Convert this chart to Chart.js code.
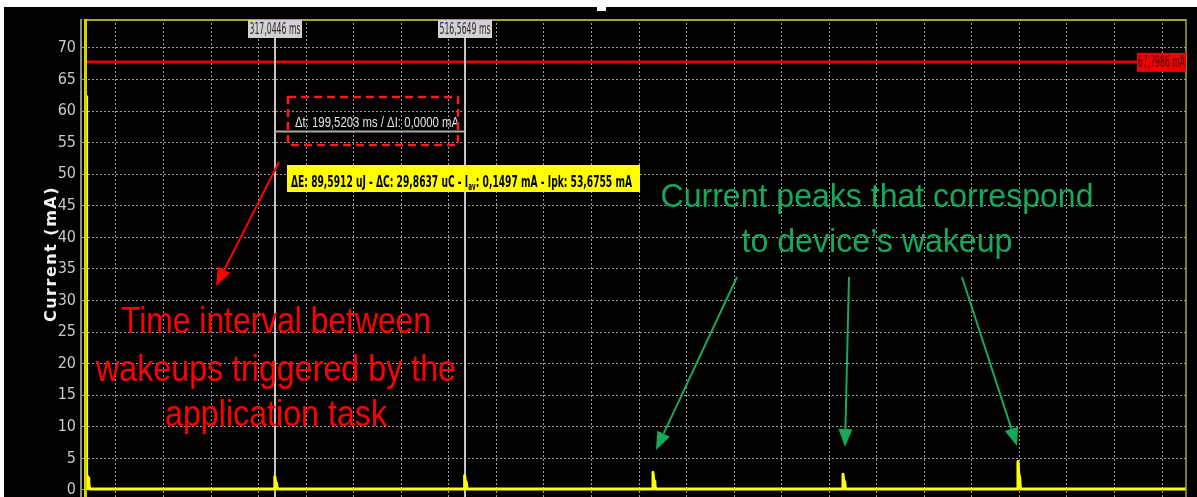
<!DOCTYPE html>
<html lang="en">
<head>
    <meta charset="UTF-8">
    <title>Current consumption - wakeups</title>
    <style>
        body {
            margin: 0;
            background: #ffffff;
            overflow: hidden;
        }
        canvas {
            display: block;
        }
    </style>
</head>
<body>
    <canvas id="grafico" width="1197" height="497"></canvas>

    <script src="https://cdn.jsdelivr.net/npm/chart.js"></script>
    <script>
        // current trace (time in ms, current in mA)
        const timeMs = [118.8, 119.1, 119.8, 120.6, 121.4, 122.3,
            316.7, 317.0, 317.8, 318.8, 319.6,
            516.3, 516.6, 517.4, 518.4, 519.2,
            714.4, 714.7, 715.5, 716.5, 717.3,
            914.2, 914.5, 915.3, 916.3, 917.1,
            1098.2, 1098.5, 1099.3, 1100.3, 1101.1,
            1275.2];
        const currentMa = [62.3, 0.15, 2.2, 1.9, 1.1, 0.15,
            0.15, 2.1, 1.3, 1.1, 0.15,
            0.15, 2.3, 1.4, 1.2, 0.15,
            0.15, 2.8, 1.6, 1.4, 0.15,
            0.15, 2.5, 1.5, 1.3, 0.15,
            0.15, 4.5, 2.6, 2.0, 0.15,
            0.15];

        const yTicksMa = [0, 5, 10, 15, 20, 25, 30, 35, 40, 45, 50, 55, 60, 65, 70];
        const xGridMs = [150, 200, 250, 300, 350, 400, 450, 500, 550, 600, 650, 700,
            750, 800, 850, 900, 950, 1000, 1050, 1100, 1150, 1200, 1250];

        const cursorMs = [317.0446, 516.5649];
        const deltaLevelMa = 56.85;
        const markerMa = 67.7986;

        const narrow = '"Liberation Sans Narrow", "DejaVu Sans Condensed", sans-serif';
        const green = '#17a85a';

        function virgula(v, casas) {
            return v.toFixed(casas).replace('.', ',');
        }

        function texto(ctx, txt, x, y, font, cor, maxW, align) {
            ctx.font = font;
            ctx.fillStyle = cor;
            ctx.textAlign = align || 'center';
            ctx.textBaseline = 'alphabetic';
            ctx.fillText(txt, x, y, maxW);
        }

        function seta(ctx, x1, y1, x2, y2, cor) {
            const ang = Math.atan2(y2 - y1, x2 - x1);
            const len = 18, half = 7;
            const bx = x2 - len * Math.cos(ang);
            const by = y2 - len * Math.sin(ang);
            ctx.strokeStyle = cor;
            ctx.fillStyle = cor;
            ctx.lineWidth = 2;
            ctx.beginPath();
            ctx.moveTo(x1, y1);
            ctx.lineTo(bx, by);
            ctx.stroke();
            ctx.beginPath();
            ctx.moveTo(x2, y2);
            ctx.lineTo(bx - half * Math.sin(ang), by + half * Math.cos(ang));
            ctx.lineTo(bx + half * Math.sin(ang), by - half * Math.cos(ang));
            ctx.closePath();
            ctx.fill();
        }

        // no automatic label padding, the plot must run to the bottom edge
        function semPadding(s) {
            s.paddingTop = 0;
            s.paddingBottom = 0;
            s.paddingLeft = 0;
            s.paddingRight = 0;
        }

        const fundo = {
            id: 'fundo',
            beforeDraw(chart) {
                const ctx = chart.ctx;
                ctx.save();
                ctx.fillStyle = '#ffffff';
                ctx.fillRect(0, 0, chart.width, chart.height);
                ctx.fillStyle = '#000000';
                ctx.fillRect(4, 7, chart.width - 4, chart.height - 7);
                ctx.fillStyle = '#ffffff';
                ctx.fillRect(597, 7, 9, 4);
                ctx.restore();
            }
        };

        const cursores = {
            id: 'cursores',
            beforeDatasetsDraw(chart) {
                const ctx = chart.ctx;
                const x = chart.scales.x, y = chart.scales.y, area = chart.chartArea;
                ctx.save();

                // marker level line
                const py = y.getPixelForValue(markerMa);
                ctx.strokeStyle = '#e00000';
                ctx.lineWidth = 3;
                ctx.beginPath();
                ctx.moveTo(area.left, py);
                ctx.lineTo(area.right, py);
                ctx.stroke();

                // time cursors
                ctx.strokeStyle = '#c4c4c4';
                ctx.lineWidth = 2;
                cursorMs.forEach(ms => {
                    const px = Math.round(x.getPixelForValue(ms));
                    ctx.beginPath();
                    ctx.moveTo(px, 38);
                    ctx.lineTo(px, area.bottom);
                    ctx.stroke();
                });

                // delta line between cursors
                const pd = Math.round(y.getPixelForValue(deltaLevelMa)) + 0.5;
                ctx.strokeStyle = '#a8a8a8';
                ctx.beginPath();
                ctx.moveTo(x.getPixelForValue(cursorMs[0]), pd);
                ctx.lineTo(x.getPixelForValue(cursorMs[1]), pd);
                ctx.stroke();
                ctx.restore();
            },
            afterDraw(chart) {
                const ctx = chart.ctx;
                const x = chart.scales.x, y = chart.scales.y, area = chart.chartArea;
                ctx.save();

                // frame
                ctx.strokeStyle = '#8c8c8c';
                ctx.lineWidth = 2;
                ctx.beginPath();
                ctx.moveTo(81, area.top);
                ctx.lineTo(81, chart.height);
                ctx.stroke();
                ctx.strokeStyle = '#a8a820';
                ctx.beginPath();
                ctx.moveTo(area.left, area.top + 1);
                ctx.lineTo(area.right, area.top + 1);
                ctx.stroke();
                ctx.lineWidth = 1.5;
                ctx.beginPath();
                ctx.moveTo(area.right, area.top);
                ctx.lineTo(area.right, chart.height);
                ctx.stroke();
                ctx.strokeStyle = '#d4d400';
                ctx.lineWidth = 3;
                ctx.beginPath();
                ctx.moveTo(area.left + 1.5, area.top);
                ctx.lineTo(area.left + 1.5, chart.height);
                ctx.stroke();

                // cursor labels
                cursorMs.forEach(ms => {
                    const px = Math.round(x.getPixelForValue(ms));
                    ctx.fillStyle = '#d2d2d2';
                    ctx.fillRect(px - 27, 20, 54, 18);
                    texto(ctx, virgula(ms, 4) + ' ms', px, 34, '15px ' + narrow, '#2a2a2a', 51);
                });

                // marker label
                const py = y.getPixelForValue(markerMa);
                ctx.fillStyle = '#f00000';
                ctx.fillRect(area.right - 49, py - 9, 49, 19);
                texto(ctx, virgula(markerMa, 4) + ' mA', area.right - 24.5, py + 5, '15px ' + narrow, '#3a0000', 47);

                // delta readout
                const dt = cursorMs[1] - cursorMs[0];
                texto(ctx, 'Δt: ' + virgula(dt, 4) + ' ms / ΔI: 0,0000 mA', 377, 127,
                    '15px "Liberation Sans", Arial, sans-serif', '#e2e2e2', 164);

                ctx.strokeStyle = '#ff1a1a';
                ctx.lineWidth = 2.5;
                ctx.setLineDash([8, 5]);
                ctx.strokeRect(288, 97, 170, 48);
                ctx.setLineDash([]);

                // energy / charge box
                ctx.fillStyle = '#ffff00';
                ctx.fillRect(287, 165, 353, 27);
                const partes = ['ΔE: 89,5912 uJ - ΔC: 29,8637 uC - I', 'av', ': 0,1497 mA - Ipk: 53,6755 mA'];
                const fBig = 'bold 16px ' + narrow, fSub = 'bold 10px ' + narrow;
                ctx.font = fBig;
                const w0 = ctx.measureText(partes[0]).width;
                const w2 = ctx.measureText(partes[2]).width;
                ctx.font = fSub;
                const w1 = ctx.measureText(partes[1]).width;
                const sx = 341 / (w0 + w1 + w2);
                ctx.save();
                ctx.translate(291, 187);
                ctx.scale(sx, 1);
                texto(ctx, partes[0], 0, 0, fBig, '#000000', undefined, 'left');
                texto(ctx, partes[1], w0, 3, fSub, '#000000', undefined, 'left');
                texto(ctx, partes[2], w0 + w1, 0, fBig, '#000000', undefined, 'left');
                ctx.restore();

                // y axis title
                ctx.save();
                ctx.translate(52, 254);
                ctx.rotate(-Math.PI / 2);
                ctx.letterSpacing = '1.5px';
                ctx.font = 'bold 16px "DejaVu Sans", sans-serif';
                ctx.fillStyle = '#f2f2f2';
                ctx.textAlign = 'center';
                ctx.textBaseline = 'middle';
                ctx.fillText('Current (mA)', 0, 0);
                ctx.restore();

                // callouts
                const fRed = '36px "Liberation Sans", Arial, sans-serif';
                texto(ctx, 'Time interval between', 276, 333, fRed, '#ff0000', 310);
                texto(ctx, 'wakeups triggered by the', 276, 381, fRed, '#ff0000', 360);
                texto(ctx, 'application task', 276, 426, fRed, '#ff0000', 222);
                seta(ctx, 279, 162, 216, 286, '#ff0000');

                const fGreen = '34px "Liberation Sans", Arial, sans-serif';
                texto(ctx, 'Current peaks that correspond', 877, 207, fGreen, green, 433);
                texto(ctx, 'to device\u2019s wakeup', 877, 252, fGreen, green, 271);
                seta(ctx, 737, 277, 656, 450, green);
                seta(ctx, 849, 277, 845, 447, green);
                seta(ctx, 962, 277, 1017, 446, green);

                ctx.restore();
            }
        };

        const pontos = timeMs.map((t, i) => ({ x: t, y: currentMa[i] }));

        new Chart(document.getElementById('grafico').getContext('2d'), {
            type: 'line',
            data: {
                datasets: [{
                    label: 'Current',
                    data: pontos,
                    borderColor: '#ffff00',
                    borderWidth: 3,
                    borderJoinStyle: 'round',
                    pointRadius: 0,
                    tension: 0
                }]
            },
            options: {
                responsive: false,
                animation: false,
                devicePixelRatio: 1,
                layout: {
                    autoPadding: false,
                    padding: { top: 19, right: 11, bottom: 0, left: 0 }
                },
                plugins: {
                    legend: { display: false },
                    tooltip: { enabled: false }
                },
                scales: {
                    x: {
                        type: 'linear',
                        min: 116.35,
                        max: 1275.2,
                        afterBuildTicks: s => { s.ticks = xGridMs.map(v => ({ value: v })); },
                        afterFit: s => { s.height = 0; semPadding(s); },
                        ticks: { display: false },
                        grid: { color: 'rgba(200,200,200,0.8)', lineWidth: 1, drawTicks: false },
                        border: { display: false, dash: [2, 2] }
                    },
                    y: {
                        min: -1.11,
                        max: 74.59,
                        afterBuildTicks: s => { s.ticks = yTicksMa.map(v => ({ value: v })); },
                        afterFit: s => { s.width = 84; semPadding(s); },
                        ticks: {
                            color: '#c8c8c8',
                            font: { family: narrow, size: 16 },
                            padding: 4
                        },
                        grid: {
                            color: 'rgba(200,200,200,0.8)',
                            lineWidth: 1,
                            tickLength: 4,
                            tickColor: '#9a9a9a'
                        },
                        border: { display: false, dash: [2, 2] }
                    }
                }
            },
            plugins: [fundo, cursores]
        });
    </script>
</body>
</html>
